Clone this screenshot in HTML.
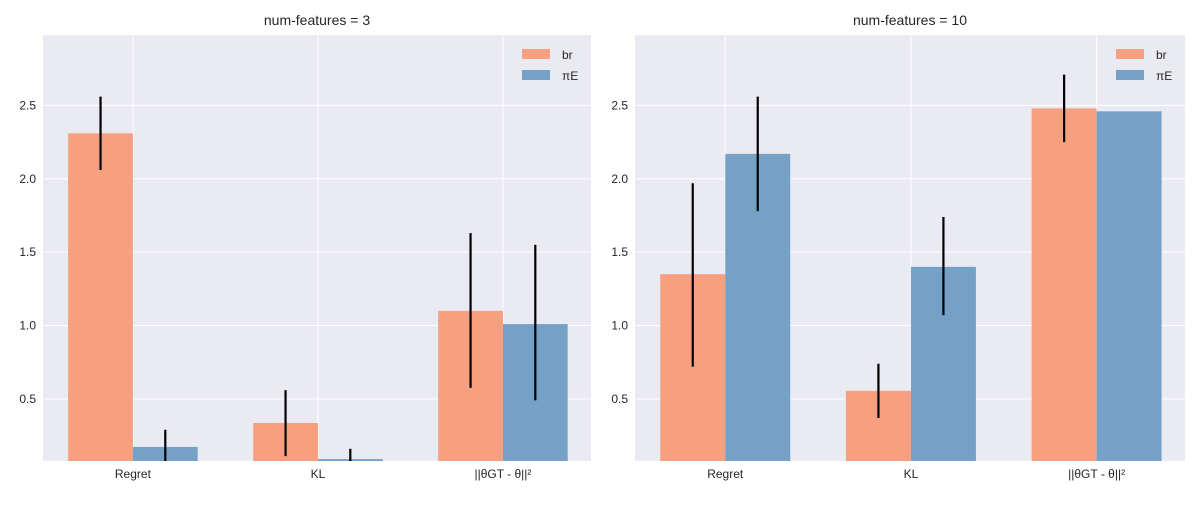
<!DOCTYPE html>
<html><head><meta charset="utf-8"><style>
body{margin:0;background:#fff;width:1200px;height:500px;overflow:hidden}
text{font-family:"Liberation Sans",Arial,sans-serif;fill:#262626}
</style></head><body>
<svg id="chart" width="1200" height="500" xmlns="http://www.w3.org/2000/svg"></svg>
<script>
const categories = ["Regret","KL","||θGT - θ||²"];
const panelTitles = ["num-features = 3","num-features = 10"];
const seriesNames = ["br","πE"];
const brValues = [[2.31,0.336,1.10],[1.35,0.555,2.48]];
const brErrLow = [[2.06,0.11,0.575],[0.72,0.37,2.25]];
const brErrHigh = [[2.56,0.56,1.63],[1.97,0.74,2.71]];
const piValues = [[0.173,0.09,1.01],[2.17,1.40,2.46]];
const piErrLow = [[0.05,0.02,0.49],[1.78,1.07,2.46]];
const piErrHigh = [[0.29,0.16,1.55],[2.56,1.74,2.46]];
const yTicks = [0.5,1.0,1.5,2.0,2.5];
const yMin = 0.077, yMax = 2.98;
const colors = ["#f7a07f","#76a1c7"];
const NS="http://www.w3.org/2000/svg";
const svg=document.getElementById('chart');
function mk(tag,attrs,parent){const e=document.createElementNS(NS,tag);for(const k in attrs)e.setAttribute(k,attrs[k]);(parent||svg).appendChild(e);return e;}
const panels=[{x0:43,x1:591},{x0:635,x1:1185}];
const plotTop=35,plotBot=461;
panels.forEach((p,pi)=>{
  const g=mk('g',{});
  
  
  const xs=v=>p.x0+(v+0.486)/(2.962)*(p.x1-p.x0);
  const ys=v=>plotBot-(v-yMin)/(yMax-yMin)*(plotBot-plotTop);
  const bg=mk('rect',{x:p.x0,y:plotTop,width:p.x1-p.x0,height:plotBot-plotTop,fill:'#eaeaf2'},g);
  
  
  yTicks.forEach(t=>{
    const y=ys(t);
    mk('line',{x1:p.x0,x2:p.x1,y1:y,y2:y,stroke:'#fff','stroke-width':1},g);
    const tx=mk('text',{x:p.x0-7,y:y+4,'text-anchor':'end','font-size':12},g);
    tx.textContent=t.toFixed(1);
    
    
  });
  categories.forEach((c,i)=>{
    const x=xs(i);
    mk('line',{x1:x,x2:x,y1:plotTop,y2:plotBot,stroke:'#fff','stroke-width':1},g);
    const tx=mk('text',{x:x,y:plotBot+17,'text-anchor':'middle','font-size':12},g);
    tx.textContent=c;
    
    
  });
  const w=0.35;
  const sets=[[brValues,brErrLow,brErrHigh],[piValues,piErrLow,piErrHigh]];
  sets.forEach((s,si)=>{
    categories.forEach((c,i)=>{
      const v=s[0][pi][i];
      const xl=xs(i-w+si*w), xr=xs(i+si*w);
      const r=mk('rect',{x:xl,y:ys(v),width:xr-xl,height:plotBot-ys(v),fill:colors[si]},g);
      
      
    });
  });
  sets.forEach((s,si)=>{
    categories.forEach((c,i)=>{
      const cx=(xs(i-w+si*w)+xs(i+si*w))/2;
      const lo=Math.max(s[1][pi][i],yMin),hi=s[2][pi][i];
      if(hi-lo<0.001)return;
      const l=mk('line',{x1:cx,x2:cx,y1:ys(lo),y2:ys(hi),stroke:'#000','stroke-width':2.2},g);
      
      
    });
  });
  const t=mk('text',{x:(p.x0+p.x1)/2,y:25,'text-anchor':'middle','font-size':14},g);
  t.textContent=panelTitles[pi];
  
  
  seriesNames.forEach((n,si)=>{
    const lx=p.x1-69,ly=49+si*21;
    const r=mk('rect',{x:lx,y:ly,width:28,height:10,fill:colors[si]},g);
    
    
    const tx=mk('text',{x:lx+40,y:ly+10,'font-size':12},g);
    tx.textContent=n;
    
    
  });
});
</script>
</body></html>
